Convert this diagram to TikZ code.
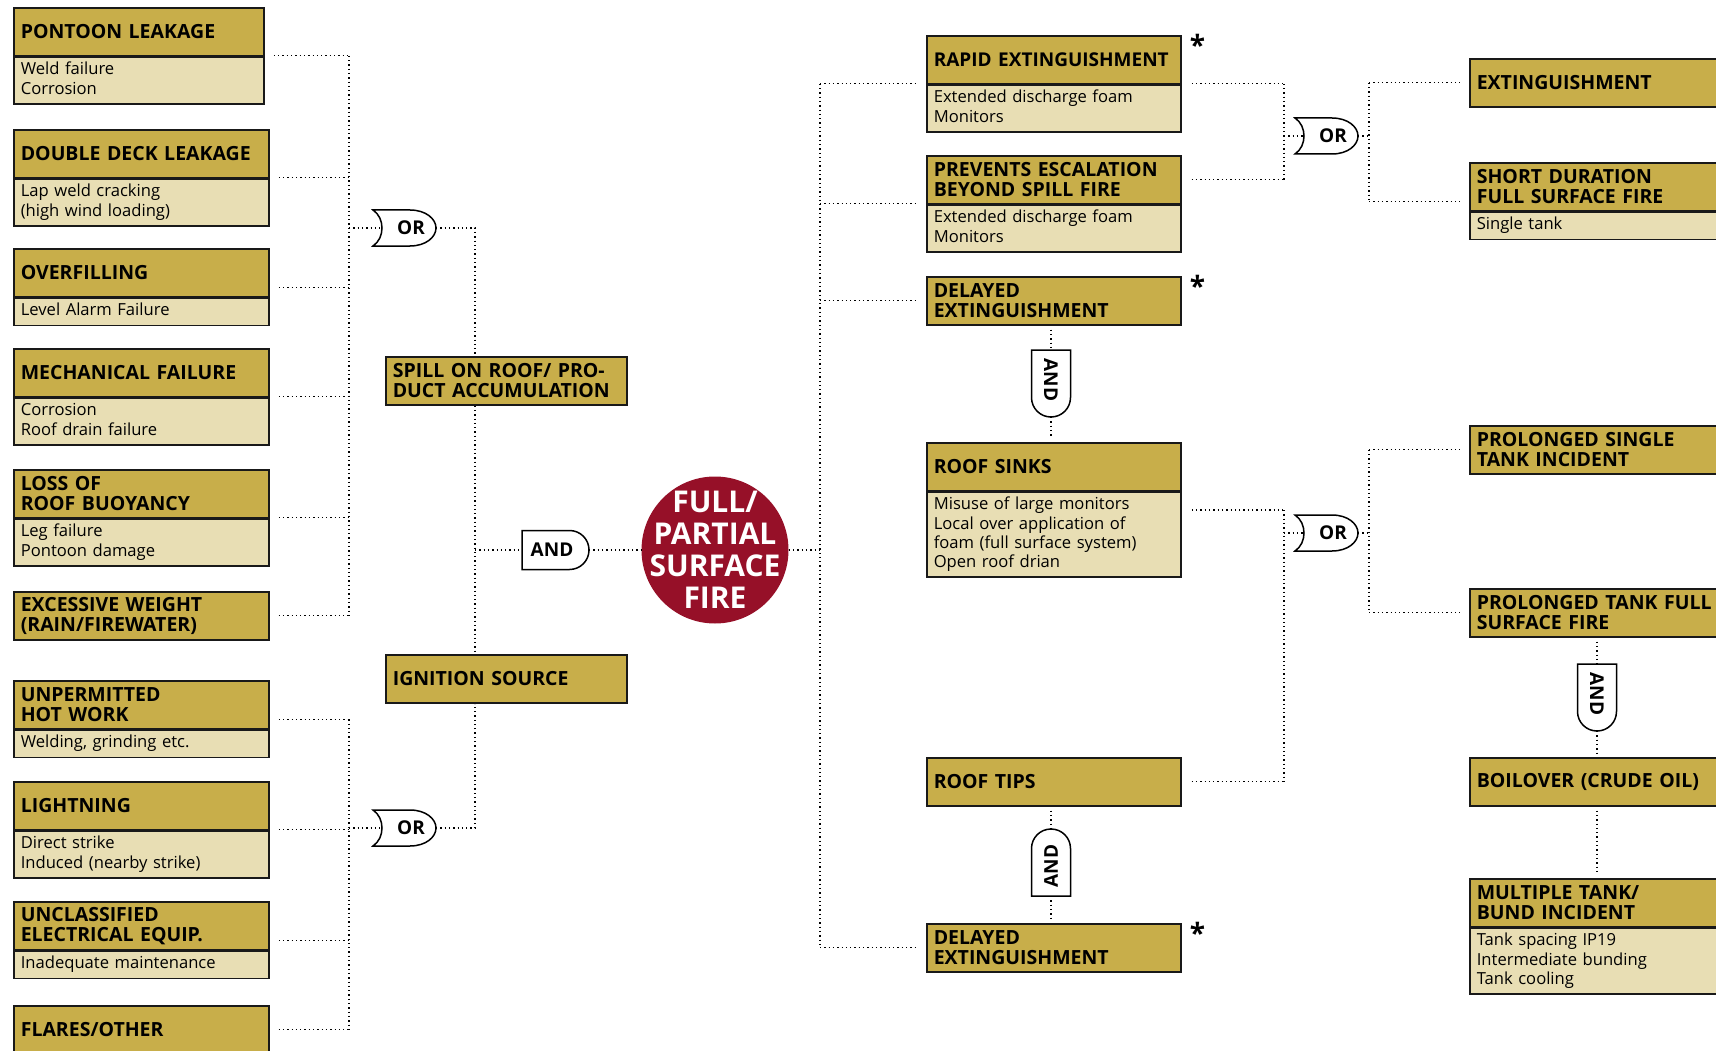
\documentclass[tikz,border=0pt]{standalone}
\usepackage{fontspec}
\setmainfont{Open Sans}
\usetikzlibrary{fit}

\definecolor{boxgold}{RGB}{200,174,74}
\definecolor{boxsand}{RGB}{232,222,180}
\definecolor{firered}{RGB}{150,16,40}

\tikzset{
  evhead/.style={draw=black!90, line width=1.6pt, fill=boxgold, anchor=north west,
    text width=#1, minimum height=48pt, inner xsep=7pt, inner ysep=0pt, align=left,
    font=\fontsize{19.5}{20}\selectfont\bfseries},
  evhead/.default=241pt,
  evbody/.style={draw=black!90, line width=1.6pt, fill=boxsand, anchor=north west,
    text width=#1, inner xsep=7pt, inner ysep=4pt, align=left,
    font=\fontsize{16.6}{19.2}\selectfont,
    execute at begin node=\strut, execute at end node=\strut},
  evbody/.default=241pt,
  evbox/.style={fit=#1, inner sep=0pt},
  link/.style={line width=1.3pt, dash pattern=on 1.3pt off 3pt},
  gateline/.style={draw=black, fill=white, line width=1.5pt},
  gatetext/.style={font=\fontsize{19}{19}\selectfont\bfseries, transform shape, inner sep=0pt},
  starmark/.style={font=\fontsize{28}{28}\selectfont\bfseries, inner sep=0pt},
  orgate/.pic={
    \draw[gateline] (-31,-18) -- (6,-18) .. controls (22,-18) and (32,-9) .. (32,0)
      .. controls (32,9) and (22,18) .. (6,18) -- (-31,18)
      .. controls (-19,10) and (-19,-10) .. (-31,-18) -- cycle;
    \node[gatetext] at (7,0) {OR};
    \coordinate (-in) at (-22,0);
    \coordinate (-out) at (32,0);
  },
  andgate/.pic={
    \draw[gateline] (-33,-19.5) -- (14.5,-19.5) .. controls (25.3,-19.5) and (34,-10.8) .. (34,0)
      .. controls (34,10.8) and (25.3,19.5) .. (14.5,19.5) -- (-33,19.5) -- cycle;
    \node[gatetext] at (-3,0) {AND};
    \coordinate (-in) at (-33,0);
    \coordinate (-out) at (34,0);
  },
}

\begin{document}
\begin{tikzpicture}[x=1pt, y=-1pt]
  \useasboundingbox (0,0) rectangle (1716,1051);
  \clip (0,0) rectangle (1716,1051);

  % Causes of spill on roof
  \node[evhead=236pt] (pontoonH) at (13,7) {PONTOON LEAKAGE};
  \node[evbody=236pt] (pontoonB) at (pontoonH.south west) {Weld failure\\Corrosion};
  \node[evbox={(pontoonH)(pontoonB)}] (pontoon) {};

  \node[evhead] (doubledeckH) at (13,129) {DOUBLE DECK LEAKAGE};
  \node[evbody] (doubledeckB) at (doubledeckH.south west) {Lap weld cracking\\(high wind loading)};
  \node[evbox={(doubledeckH)(doubledeckB)}] (doubledeck) {};

  \node[evhead] (overfillH) at (13,248) {OVERFILLING};
  \node[evbody] (overfillB) at (overfillH.south west) {Level Alarm Failure};
  \node[evbox={(overfillH)(overfillB)}] (overfill) {};

  \node[evhead] (mechH) at (13,348) {MECHANICAL FAILURE};
  \node[evbody] (mechB) at (mechH.south west) {Corrosion\\Roof drain failure};
  \node[evbox={(mechH)(mechB)}] (mech) {};

  \node[evhead] (buoyH) at (13,469) {LOSS OF\\ROOF BUOYANCY};
  \node[evbody] (buoyB) at (buoyH.south west) {Leg failure\\Pontoon damage};
  \node[evbox={(buoyH)(buoyB)}] (buoy) {};

  \node[evhead] (weight) at (13,591) {EXCESSIVE WEIGHT\\(RAIN/FIREWATER)};

  % Ignition sources
  \node[evhead] (hotworkH) at (13,680) {UNPERMITTED\\HOT WORK};
  \node[evbody] (hotworkB) at (hotworkH.south west) {Welding, grinding etc.};
  \node[evbox={(hotworkH)(hotworkB)}] (hotwork) {};

  \node[evhead] (lightningH) at (13,781) {LIGHTNING};
  \node[evbody] (lightningB) at (lightningH.south west) {Direct strike\\Induced (nearby strike)};
  \node[evbox={(lightningH)(lightningB)}] (lightning) {};

  \node[evhead] (electricalH) at (13,901) {UNCLASSIFIED\\ELECTRICAL EQUIP.};
  \node[evbody] (electricalB) at (electricalH.south west) {Inadequate maintenance};
  \node[evbox={(electricalH)(electricalB)}] (electrical) {};

  \node[evhead] (flares) at (13,1005) {FLARES/OTHER};

  % Intermediate events
  \node[evhead=227pt] (spill) at (385,356) {SPILL ON ROOF/ PRO-\\DUCT ACCUMULATION};
  \node[evhead=227pt] (ignition) at (385,654) {IGNITION SOURCE};

  % Top event
  \node[circle, fill=firered, minimum size=147pt, inner sep=0pt] (fire) at (715,550) {};
  \node[text=white, align=center, inner sep=0pt,
    font=\fontsize{30}{32}\selectfont\bfseries] (fireText) at (fire) {FULL/\\PARTIAL\\SURFACE\\FIRE};

  % Outcomes
  \node[evhead=240pt] (rapidH) at (926,35) {\fontsize{19}{20}\selectfont\mbox{RAPID EXTINGUISHMENT}};
  \node[evbody=240pt] (rapidB) at (rapidH.south west) {Extended discharge foam\\Monitors};
  \node[evbox={(rapidH)(rapidB)}] (rapid) {};

  \node[evhead=240pt] (preventsH) at (926,155) {PREVENTS ESCALATION\\BEYOND SPILL FIRE};
  \node[evbody=240pt] (preventsB) at (preventsH.south west) {Extended discharge foam\\Monitors};
  \node[evbox={(preventsH)(preventsB)}] (prevents) {};

  \node[evhead=240pt] (delayedA) at (926,276) {DELAYED\\EXTINGUISHMENT};

  \node[evhead=240pt] (roofsinksH) at (926,442) {ROOF SINKS};
  \node[evbody=240pt] (roofsinksB) at (roofsinksH.south west) {Misuse of large monitors\\Local over application of\\foam (full surface system)\\Open roof drian};
  \node[evbox={(roofsinksH)(roofsinksB)}] (roofsinks) {};

  \node[evhead=240pt] (rooftips) at (926,757) {ROOF TIPS};
  \node[evhead=240pt] (delayedB) at (926,923) {DELAYED\\EXTINGUISHMENT};

  \node[starmark] (starA) at ([xshift=16pt,yshift=-10pt]rapidH.north east) {*};
  \node[starmark] (starB) at ([xshift=16pt,yshift=-10pt]delayedA.north east) {*};
  \node[starmark] (starC) at ([xshift=16pt,yshift=-10pt]delayedB.north east) {*};

  % Escalation
  \node[evhead=300pt] (ext) at (1469,58) {EXTINGUISHMENT};
  \node[evhead=300pt] (shortH) at (1469,162) {SHORT DURATION\\FULL SURFACE FIRE};
  \node[evbody=300pt] (shortB) at (shortH.south west) {Single tank};
  \node[evbox={(shortH)(shortB)}] (short) {};

  \node[evhead=300pt] (prolsingle) at (1469,425) {PROLONGED SINGLE\\TANK INCIDENT};
  \node[evhead=300pt] (prolfull) at (1469,588) {PROLONGED TANK FULL\\SURFACE FIRE};
  \node[evhead=300pt] (boilover) at (1469,757) {BOILOVER (CRUDE OIL)};
  \node[evhead=300pt] (multipleH) at (1469,878) {MULTIPLE TANK/\\BUND INCIDENT};
  \node[evbody=300pt] (multipleB) at (multipleH.south west) {Tank spacing IP19\\Intermediate bunding\\Tank cooling};

  % Gates
  \pic (orA) at (404,228) {orgate};
  \pic (orB) at (404,828) {orgate};
  \pic (andC) at (555,550) {andgate};
  \pic (orC) at (1326,136) {orgate};
  \pic (orD) at (1326,533) {orgate};
  \pic[rotate=-90] (andD) at (1051,383) {andgate};
  \pic[rotate=90] (andE) at (1051,863) {andgate};
  \pic[rotate=-90] (andF) at (1597,697) {andgate};

  % Bus points
  \coordinate (busL) at (349,228);
  \coordinate (busLb) at (349,828);
  \coordinate (spine) at (475,550);
  \coordinate (busR) at (820,550);
  \coordinate (busRa) at (1284,136);
  \coordinate (busRb) at (1369,136);
  \coordinate (busRc) at (1284,533);
  \coordinate (busRd) at (1369,533);

  % Upper causes into OR
  \draw[link, shorten <=9pt] (pontoon.east) -- (busL |- pontoon.east);
  \draw[link, shorten <=9pt] (doubledeck.east) -- (busL |- doubledeck.east);
  \draw[link, shorten <=9pt] (overfill.east) -- (busL |- overfill.east);
  \draw[link, shorten <=9pt] (mech.east) -- (busL |- mech.east);
  \draw[link, shorten <=9pt] (buoy.east) -- (busL |- buoy.east);
  \draw[link, shorten <=9pt] (weight.east) -- (busL |- weight.east);
  \draw[link] (busL |- pontoon.east) -- (busL |- weight.east);
  \draw[link] (busL) -- (orA-in);

  % Lower causes into OR
  \draw[link, shorten <=9pt] (hotwork.east) -- (busLb |- hotwork.east);
  \draw[link, shorten <=9pt] (lightning.east) -- (busLb |- lightning.east);
  \draw[link, shorten <=9pt] (electrical.east) -- (busLb |- electrical.east);
  \draw[link, shorten <=9pt] (flares.east) -- (busLb |- flares.east);
  \draw[link] (busLb |- hotwork.east) -- (busLb |- flares.east);
  \draw[link] (busLb) -- (orB-in);

  % Spill and ignition into AND
  \draw[link] (orA-out) -| (spine |- spill.north);
  \draw[link] (spine |- spill.south) -- (spine |- ignition.north);
  \draw[link] (orB-out) -| (spine |- ignition.south);
  \draw[link] (spine) -- (andC-in);
  \draw[link] (andC-out) -- (fire);
  \draw[link] (fire) -- (busR);

  % Outcome bus
  \draw[link] (busR |- rapid.west) -- (busR |- delayedB.west);
  \draw[link, shorten >=9pt] (busR |- rapid.west) -- (rapid.west);
  \draw[link, shorten >=9pt] (busR |- prevents.west) -- (prevents.west);
  \draw[link, shorten >=9pt] (busR |- delayedA.west) -- (delayedA.west);
  \draw[link, shorten >=9pt] (busR |- delayedB.west) -- (delayedB.west);

  % Extinguishment OR
  \draw[link, shorten <=10pt] (rapid.east) -- (busRa |- rapid.east);
  \draw[link, shorten <=10pt] (preventsH.east) -- (busRa |- preventsH.east);
  \draw[link] (busRa |- rapid.east) -- (busRa |- preventsH.east);
  \draw[link] (busRa) -- (orC-in);
  \draw[link] (orC-out) -- (busRb);
  \draw[link] (busRb |- ext.west) -- (busRb |- short.west);
  \draw[link, shorten >=9pt] (busRb |- ext.west) -- (ext.west);
  \draw[link, shorten >=9pt] (busRb |- short.west) -- (short.west);

  % Roof failure OR
  \draw[link, shorten <=10pt] (roofsinks.east) -- (busRc |- roofsinks.east);
  \draw[link, shorten <=10pt] (rooftips.east) -- (busRc |- rooftips.east);
  \draw[link] (busRc |- roofsinks.east) -- (busRc |- rooftips.east);
  \draw[link] (busRc) -- (orD-in);
  \draw[link] (orD-out) -- (busRd);
  \draw[link] (busRd |- prolsingle.west) -- (busRd |- prolfull.west);
  \draw[link, shorten >=9pt] (busRd |- prolsingle.west) -- (prolsingle.west);
  \draw[link, shorten >=9pt] (busRd |- prolfull.west) -- (prolfull.west);

  % Vertical AND gates
  \draw[link, shorten <=4pt] (andD-in |- delayedA.south) -- (andD-in);
  \draw[link, shorten >=4pt] (andD-out) -- (andD-out |- roofsinksH.north);
  \draw[link, shorten <=4pt] (andE-out |- rooftips.south) -- (andE-out);
  \draw[link, shorten >=4pt] (andE-in) -- (andE-in |- delayedB.north);
  \draw[link, shorten <=4pt] (andF-in |- prolfull.south) -- (andF-in);
  \draw[link, shorten >=4pt] (andF-out) -- (andF-out |- boilover.north);
  \draw[link, shorten <=4pt, shorten >=4pt] (andF-out |- boilover.south) -- (andF-out |- multipleH.north);
\end{tikzpicture}
\end{document}
